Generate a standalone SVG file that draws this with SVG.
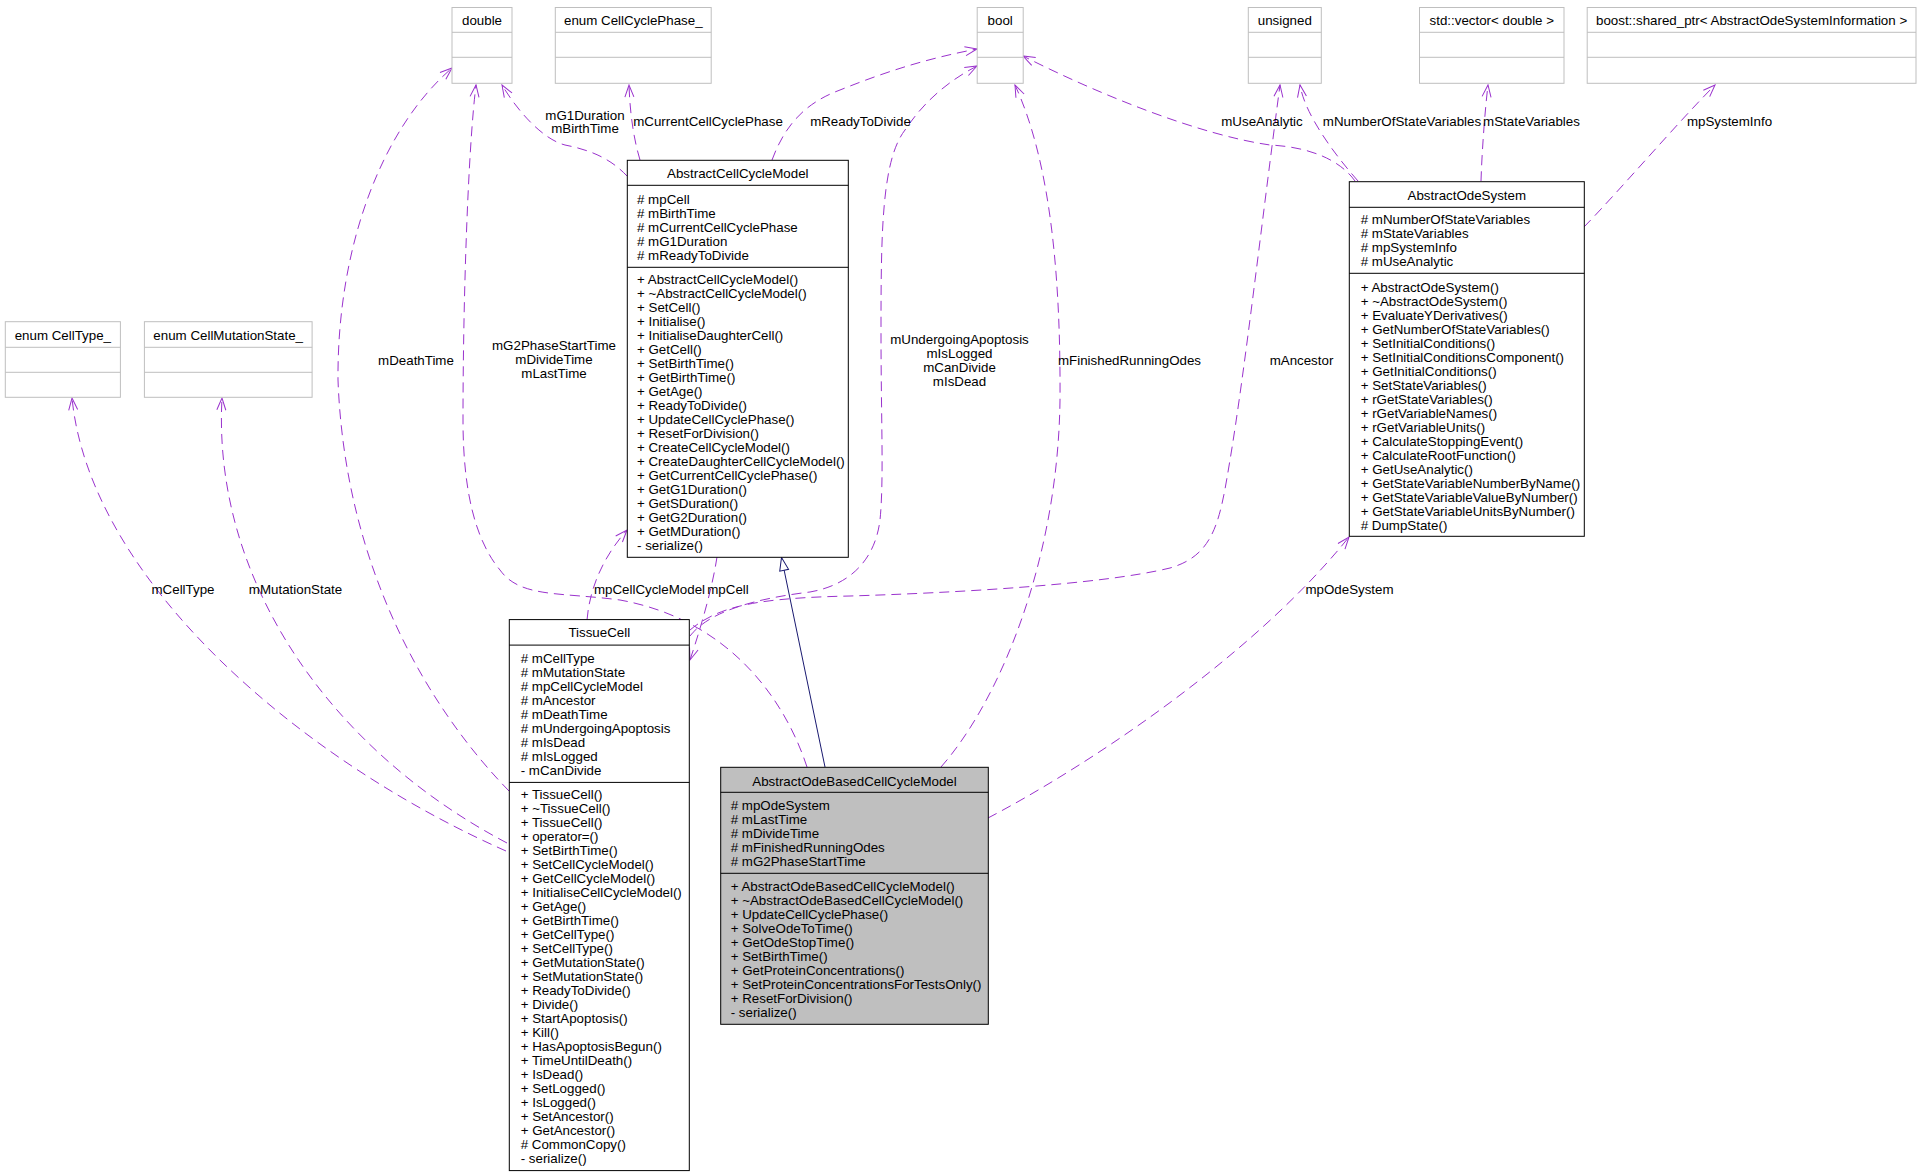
<svg xmlns="http://www.w3.org/2000/svg" width="1920" height="1176" viewBox="0 0 1920 1176">
<style>
text{font-family:"Liberation Sans",Arial,sans-serif;font-size:13.33px;fill:#000}
.c{text-anchor:middle}
.gb{fill:#fff;stroke:#bfbfbf;stroke-width:1}
.bb{fill:#fff;stroke:#000;stroke-width:1}
.gl{stroke:#bfbfbf;stroke-width:1}
.bl{stroke:#000;stroke-width:1}
.e{fill:none;stroke:#9a32cd;stroke-width:1;stroke-dasharray:10,6;marker-end:url(#open)}
.inh{fill:none;stroke:#191970;stroke-width:1;marker-end:url(#tri)}
</style>
<defs>
<marker id="open" markerUnits="userSpaceOnUse" markerWidth="14" markerHeight="11" viewBox="-1 -1 14 11" refX="12" refY="4.5" orient="auto">
<path d="M0,0 L12,4.5 L0,9" fill="none" stroke="#9a32cd" stroke-width="1" stroke-dasharray="none"/>
</marker>
<marker id="tri" markerUnits="userSpaceOnUse" markerWidth="15" markerHeight="11" viewBox="-1 -1 15 11" refX="13" refY="4.5" orient="auto">
<path d="M0,0 L13,4.5 L0,9 Z" fill="#fff" stroke="#191970" stroke-width="1"/>
</marker>
</defs>
<rect width="1920" height="1176" fill="#fff"/>

<g id="connectors">
<path class="inh" d="M825,767 L781.5,557.5"/>
<path class="e" d="M627,176 C610,158 590,150 565,145 C545,140 520,115 502,85"/>
<path class="e" d="M640,160 C634,140 630,115 629,85"/>
<path class="e" d="M772,160 C785,125 805,103 840,90 C890,70 930,58 977,49"/>
<path class="e" d="M1355,181 C1340,160 1310,147 1270,145 C1200,135 1100,95 1023,56"/>
<path class="e" d="M1358,181 C1335,155 1305,115 1300,85"/>
<path class="e" d="M1481,181 C1482,150 1485,110 1488,85"/>
<path class="e" d="M1584,227 C1620,190 1680,120 1715,85"/>
<path class="e" d="M988,818 C1080,770 1250,660 1349,537"/>
<path class="e" d="M941,767 C1000,700 1058,560 1060,400 C1061,250 1045,150 1015,85"/>
<path class="e" d="M807,767 C785,700 730,620 620,600 C560,592 520,598 500,570 C475,540 463,490 463,420 C463,300 468,150 476,85"/>
<path class="e" d="M509,791 C430,710 345,570 338,380 C337,250 380,130 452,68"/>
<path class="e" d="M506,851 C300,760 90,580 72,398"/>
<path class="e" d="M507,843 C330,750 212,580 222,398"/>
<path class="e" d="M587,620 C590,585 605,555 627,530"/>
<path class="e" d="M717,557 C712,590 700,630 690,660"/>
<path class="e" d="M690,636 C710,610 760,598 810,592 C850,585 875,560 880,520 C884,480 881,420 881,330 C881,230 882,160 905,130 C925,100 950,80 977,66"/>
<path class="e" d="M690,630 C720,605 760,598 850,596 C950,593 1100,585 1170,568 C1215,555 1220,520 1230,460 C1245,370 1262,220 1280,85"/>
<text class="c" x="585" y="119.5">mG1Duration</text>
<text class="c" x="585" y="133">mBirthTime</text>
<text class="c" x="708" y="126">mCurrentCellCyclePhase</text>
<text class="c" x="860.5" y="126">mReadyToDivide</text>
<text class="c" x="1262" y="126">mUseAnalytic</text>
<text class="c" x="1402" y="126">mNumberOfStateVariables</text>
<text class="c" x="1531.5" y="126">mStateVariables</text>
<text class="c" x="1729.5" y="126">mpSystemInfo</text>
<text class="c" x="416" y="364.5">mDeathTime</text>
<text class="c" x="554" y="350">mG2PhaseStartTime<tspan x="554" dy="14">mDivideTime</tspan><tspan x="554" dy="14">mLastTime</tspan></text>
<text class="c" x="959.5" y="343.5">mUndergoingApoptosis<tspan x="959.5" dy="14">mIsLogged</tspan><tspan x="959.5" dy="14">mCanDivide</tspan><tspan x="959.5" dy="14">mIsDead</tspan></text>
<text class="c" x="1129.5" y="364.5">mFinishedRunningOdes</text>
<text class="c" x="1301.5" y="364.5">mAncestor</text>
<text class="c" x="183" y="593.5">mCellType</text>
<text class="c" x="295.5" y="593.5">mMutationState</text>
<text class="c" x="649.5" y="593.5">mpCellCycleModel</text>
<text class="c" x="728" y="593.5">mpCell</text>
<text class="c" x="1349.5" y="593.5">mpOdeSystem</text>
</g>

<g id="double">
<rect class="gb" x="452" y="7.5" width="60" height="75.8"/>
<line class="gl" x1="452" y1="32.3" x2="512" y2="32.3"/><line class="gl" x1="452" y1="57.3" x2="512" y2="57.3"/>
<text class="c" x="482" y="25">double</text>
</g>
<g id="enum_CellCyclePhase">
<rect class="gb" x="555.3" y="7.5" width="155.9" height="75.8"/>
<line class="gl" x1="555.3" y1="32.3" x2="711.2" y2="32.3"/><line class="gl" x1="555.3" y1="57.3" x2="711.2" y2="57.3"/>
<text class="c" x="633.3" y="25">enum CellCyclePhase_</text>
</g>
<g id="bool">
<rect class="gb" x="977.2" y="7.5" width="46" height="75.8"/>
<line class="gl" x1="977.2" y1="32.3" x2="1023.2" y2="32.3"/><line class="gl" x1="977.2" y1="57.3" x2="1023.2" y2="57.3"/>
<text class="c" x="1000.2" y="25">bool</text>
</g>
<g id="unsigned">
<rect class="gb" x="1248.3" y="7.5" width="73" height="75.8"/>
<line class="gl" x1="1248.3" y1="32.3" x2="1321.3" y2="32.3"/><line class="gl" x1="1248.3" y1="57.3" x2="1321.3" y2="57.3"/>
<text class="c" x="1284.8" y="25">unsigned</text>
</g>
<g id="vector_double">
<rect class="gb" x="1419.5" y="7.5" width="144.5" height="75.8"/>
<line class="gl" x1="1419.5" y1="32.3" x2="1564" y2="32.3"/><line class="gl" x1="1419.5" y1="57.3" x2="1564" y2="57.3"/>
<text class="c" x="1491.8" y="25">std::vector&lt; double &gt;</text>
</g>
<g id="shared_ptr">
<rect class="gb" x="1587.2" y="7.5" width="328.8" height="75.8"/>
<line class="gl" x1="1587.2" y1="32.3" x2="1916" y2="32.3"/><line class="gl" x1="1587.2" y1="57.3" x2="1916" y2="57.3"/>
<text class="c" x="1751.6" y="25">boost::shared_ptr&lt; AbstractOdeSystemInformation &gt;</text>
</g>
<g id="enum_CellType">
<rect class="gb" x="5.3" y="321.7" width="115.1" height="75.6"/>
<line class="gl" x1="5.3" y1="347.3" x2="120.4" y2="347.3"/><line class="gl" x1="5.3" y1="372.3" x2="120.4" y2="372.3"/>
<text class="c" x="62.8" y="339.5">enum CellType_</text>
</g>
<g id="enum_CellMutationState">
<rect class="gb" x="144.4" y="321.7" width="167.7" height="75.6"/>
<line class="gl" x1="144.4" y1="347.3" x2="312.1" y2="347.3"/><line class="gl" x1="144.4" y1="372.3" x2="312.1" y2="372.3"/>
<text class="c" x="228.2" y="339.5">enum CellMutationState_</text>
</g>

<g id="AbstractCellCycleModel">
<rect class="bb" x="627.3" y="160.3" width="221" height="397"/>
<line class="bl" x1="627.3" y1="185.3" x2="848.3" y2="185.3"/><line class="bl" x1="627.3" y1="267.3" x2="848.3" y2="267.3"/>
<text class="c" x="737.8" y="178">AbstractCellCycleModel</text>
<text x="637" y="203.8"># mpCell<tspan x="637" dy="14"># mBirthTime</tspan><tspan x="637" dy="14"># mCurrentCellCyclePhase</tspan><tspan x="637" dy="14"># mG1Duration</tspan><tspan x="637" dy="14"># mReadyToDivide</tspan></text>
<text x="637" y="283.8">+ AbstractCellCycleModel()<tspan x="637" dy="14">+ ~AbstractCellCycleModel()</tspan><tspan x="637" dy="14">+ SetCell()</tspan><tspan x="637" dy="14">+ Initialise()</tspan><tspan x="637" dy="14">+ InitialiseDaughterCell()</tspan><tspan x="637" dy="14">+ GetCell()</tspan><tspan x="637" dy="14">+ SetBirthTime()</tspan><tspan x="637" dy="14">+ GetBirthTime()</tspan><tspan x="637" dy="14">+ GetAge()</tspan><tspan x="637" dy="14">+ ReadyToDivide()</tspan><tspan x="637" dy="14">+ UpdateCellCyclePhase()</tspan><tspan x="637" dy="14">+ ResetForDivision()</tspan><tspan x="637" dy="14">+ CreateCellCycleModel()</tspan><tspan x="637" dy="14">+ CreateDaughterCellCycleModel()</tspan><tspan x="637" dy="14">+ GetCurrentCellCyclePhase()</tspan><tspan x="637" dy="14">+ GetG1Duration()</tspan><tspan x="637" dy="14">+ GetSDuration()</tspan><tspan x="637" dy="14">+ GetG2Duration()</tspan><tspan x="637" dy="14">+ GetMDuration()</tspan><tspan x="637" dy="14">- serialize()</tspan></text>
</g>

<g id="AbstractOdeSystem">
<rect class="bb" x="1349.3" y="181.7" width="235" height="354.6"/>
<line class="bl" x1="1349.3" y1="207.3" x2="1584.3" y2="207.3"/><line class="bl" x1="1349.3" y1="273.3" x2="1584.3" y2="273.3"/>
<text class="c" x="1466.8" y="200">AbstractOdeSystem</text>
<text x="1360.7" y="223.8"># mNumberOfStateVariables<tspan x="1360.7" dy="14"># mStateVariables</tspan><tspan x="1360.7" dy="14"># mpSystemInfo</tspan><tspan x="1360.7" dy="14"># mUseAnalytic</tspan></text>
<text x="1360.7" y="291.8">+ AbstractOdeSystem()<tspan x="1360.7" dy="14">+ ~AbstractOdeSystem()</tspan><tspan x="1360.7" dy="14">+ EvaluateYDerivatives()</tspan><tspan x="1360.7" dy="14">+ GetNumberOfStateVariables()</tspan><tspan x="1360.7" dy="14">+ SetInitialConditions()</tspan><tspan x="1360.7" dy="14">+ SetInitialConditionsComponent()</tspan><tspan x="1360.7" dy="14">+ GetInitialConditions()</tspan><tspan x="1360.7" dy="14">+ SetStateVariables()</tspan><tspan x="1360.7" dy="14">+ rGetStateVariables()</tspan><tspan x="1360.7" dy="14">+ rGetVariableNames()</tspan><tspan x="1360.7" dy="14">+ rGetVariableUnits()</tspan><tspan x="1360.7" dy="14">+ CalculateStoppingEvent()</tspan><tspan x="1360.7" dy="14">+ CalculateRootFunction()</tspan><tspan x="1360.7" dy="14">+ GetUseAnalytic()</tspan><tspan x="1360.7" dy="14">+ GetStateVariableNumberByName()</tspan><tspan x="1360.7" dy="14">+ GetStateVariableValueByNumber()</tspan><tspan x="1360.7" dy="14">+ GetStateVariableUnitsByNumber()</tspan><tspan x="1360.7" dy="14"># DumpState()</tspan></text>
</g>

<g id="TissueCell">
<rect class="bb" x="509.3" y="619.6" width="180" height="551"/>
<line class="bl" x1="509.3" y1="645.1" x2="689.3" y2="645.1"/><line class="bl" x1="509.3" y1="782.4" x2="689.3" y2="782.4"/>
<text class="c" x="599.3" y="637">TissueCell</text>
<text x="520.7" y="662.6"># mCellType<tspan x="520.7" dy="14"># mMutationState</tspan><tspan x="520.7" dy="14"># mpCellCycleModel</tspan><tspan x="520.7" dy="14"># mAncestor</tspan><tspan x="520.7" dy="14"># mDeathTime</tspan><tspan x="520.7" dy="14"># mUndergoingApoptosis</tspan><tspan x="520.7" dy="14"># mIsDead</tspan><tspan x="520.7" dy="14"># mIsLogged</tspan><tspan x="520.7" dy="14">- mCanDivide</tspan></text>
<text x="520.7" y="799">+ TissueCell()<tspan x="520.7" dy="14">+ ~TissueCell()</tspan><tspan x="520.7" dy="14">+ TissueCell()</tspan><tspan x="520.7" dy="14">+ operator=()</tspan><tspan x="520.7" dy="14">+ SetBirthTime()</tspan><tspan x="520.7" dy="14">+ SetCellCycleModel()</tspan><tspan x="520.7" dy="14">+ GetCellCycleModel()</tspan><tspan x="520.7" dy="14">+ InitialiseCellCycleModel()</tspan><tspan x="520.7" dy="14">+ GetAge()</tspan><tspan x="520.7" dy="14">+ GetBirthTime()</tspan><tspan x="520.7" dy="14">+ GetCellType()</tspan><tspan x="520.7" dy="14">+ SetCellType()</tspan><tspan x="520.7" dy="14">+ GetMutationState()</tspan><tspan x="520.7" dy="14">+ SetMutationState()</tspan><tspan x="520.7" dy="14">+ ReadyToDivide()</tspan><tspan x="520.7" dy="14">+ Divide()</tspan><tspan x="520.7" dy="14">+ StartApoptosis()</tspan><tspan x="520.7" dy="14">+ Kill()</tspan><tspan x="520.7" dy="14">+ HasApoptosisBegun()</tspan><tspan x="520.7" dy="14">+ TimeUntilDeath()</tspan><tspan x="520.7" dy="14">+ IsDead()</tspan><tspan x="520.7" dy="14">+ SetLogged()</tspan><tspan x="520.7" dy="14">+ IsLogged()</tspan><tspan x="520.7" dy="14">+ SetAncestor()</tspan><tspan x="520.7" dy="14">+ GetAncestor()</tspan><tspan x="520.7" dy="14"># CommonCopy()</tspan><tspan x="520.7" dy="14">- serialize()</tspan></text>
</g>

<g id="AbstractOdeBasedCellCycleModel">
<rect x="720.7" y="767.3" width="267.6" height="257" fill="#bfbfbf" stroke="#000" stroke-width="1"/>
<line class="bl" x1="720.7" y1="792.3" x2="988.3" y2="792.3"/><line class="bl" x1="720.7" y1="873.3" x2="988.3" y2="873.3"/>
<text class="c" x="854.5" y="785.5">AbstractOdeBasedCellCycleModel</text>
<text x="730.7" y="809.5"># mpOdeSystem<tspan x="730.7" dy="14"># mLastTime</tspan><tspan x="730.7" dy="14"># mDivideTime</tspan><tspan x="730.7" dy="14"># mFinishedRunningOdes</tspan><tspan x="730.7" dy="14"># mG2PhaseStartTime</tspan></text>
<text x="730.7" y="891.2">+ AbstractOdeBasedCellCycleModel()<tspan x="730.7" dy="14">+ ~AbstractOdeBasedCellCycleModel()</tspan><tspan x="730.7" dy="14">+ UpdateCellCyclePhase()</tspan><tspan x="730.7" dy="14">+ SolveOdeToTime()</tspan><tspan x="730.7" dy="14">+ GetOdeStopTime()</tspan><tspan x="730.7" dy="14">+ SetBirthTime()</tspan><tspan x="730.7" dy="14">+ GetProteinConcentrations()</tspan><tspan x="730.7" dy="14">+ SetProteinConcentrationsForTestsOnly()</tspan><tspan x="730.7" dy="14">+ ResetForDivision()</tspan><tspan x="730.7" dy="14">- serialize()</tspan></text>
</g>
</svg>
